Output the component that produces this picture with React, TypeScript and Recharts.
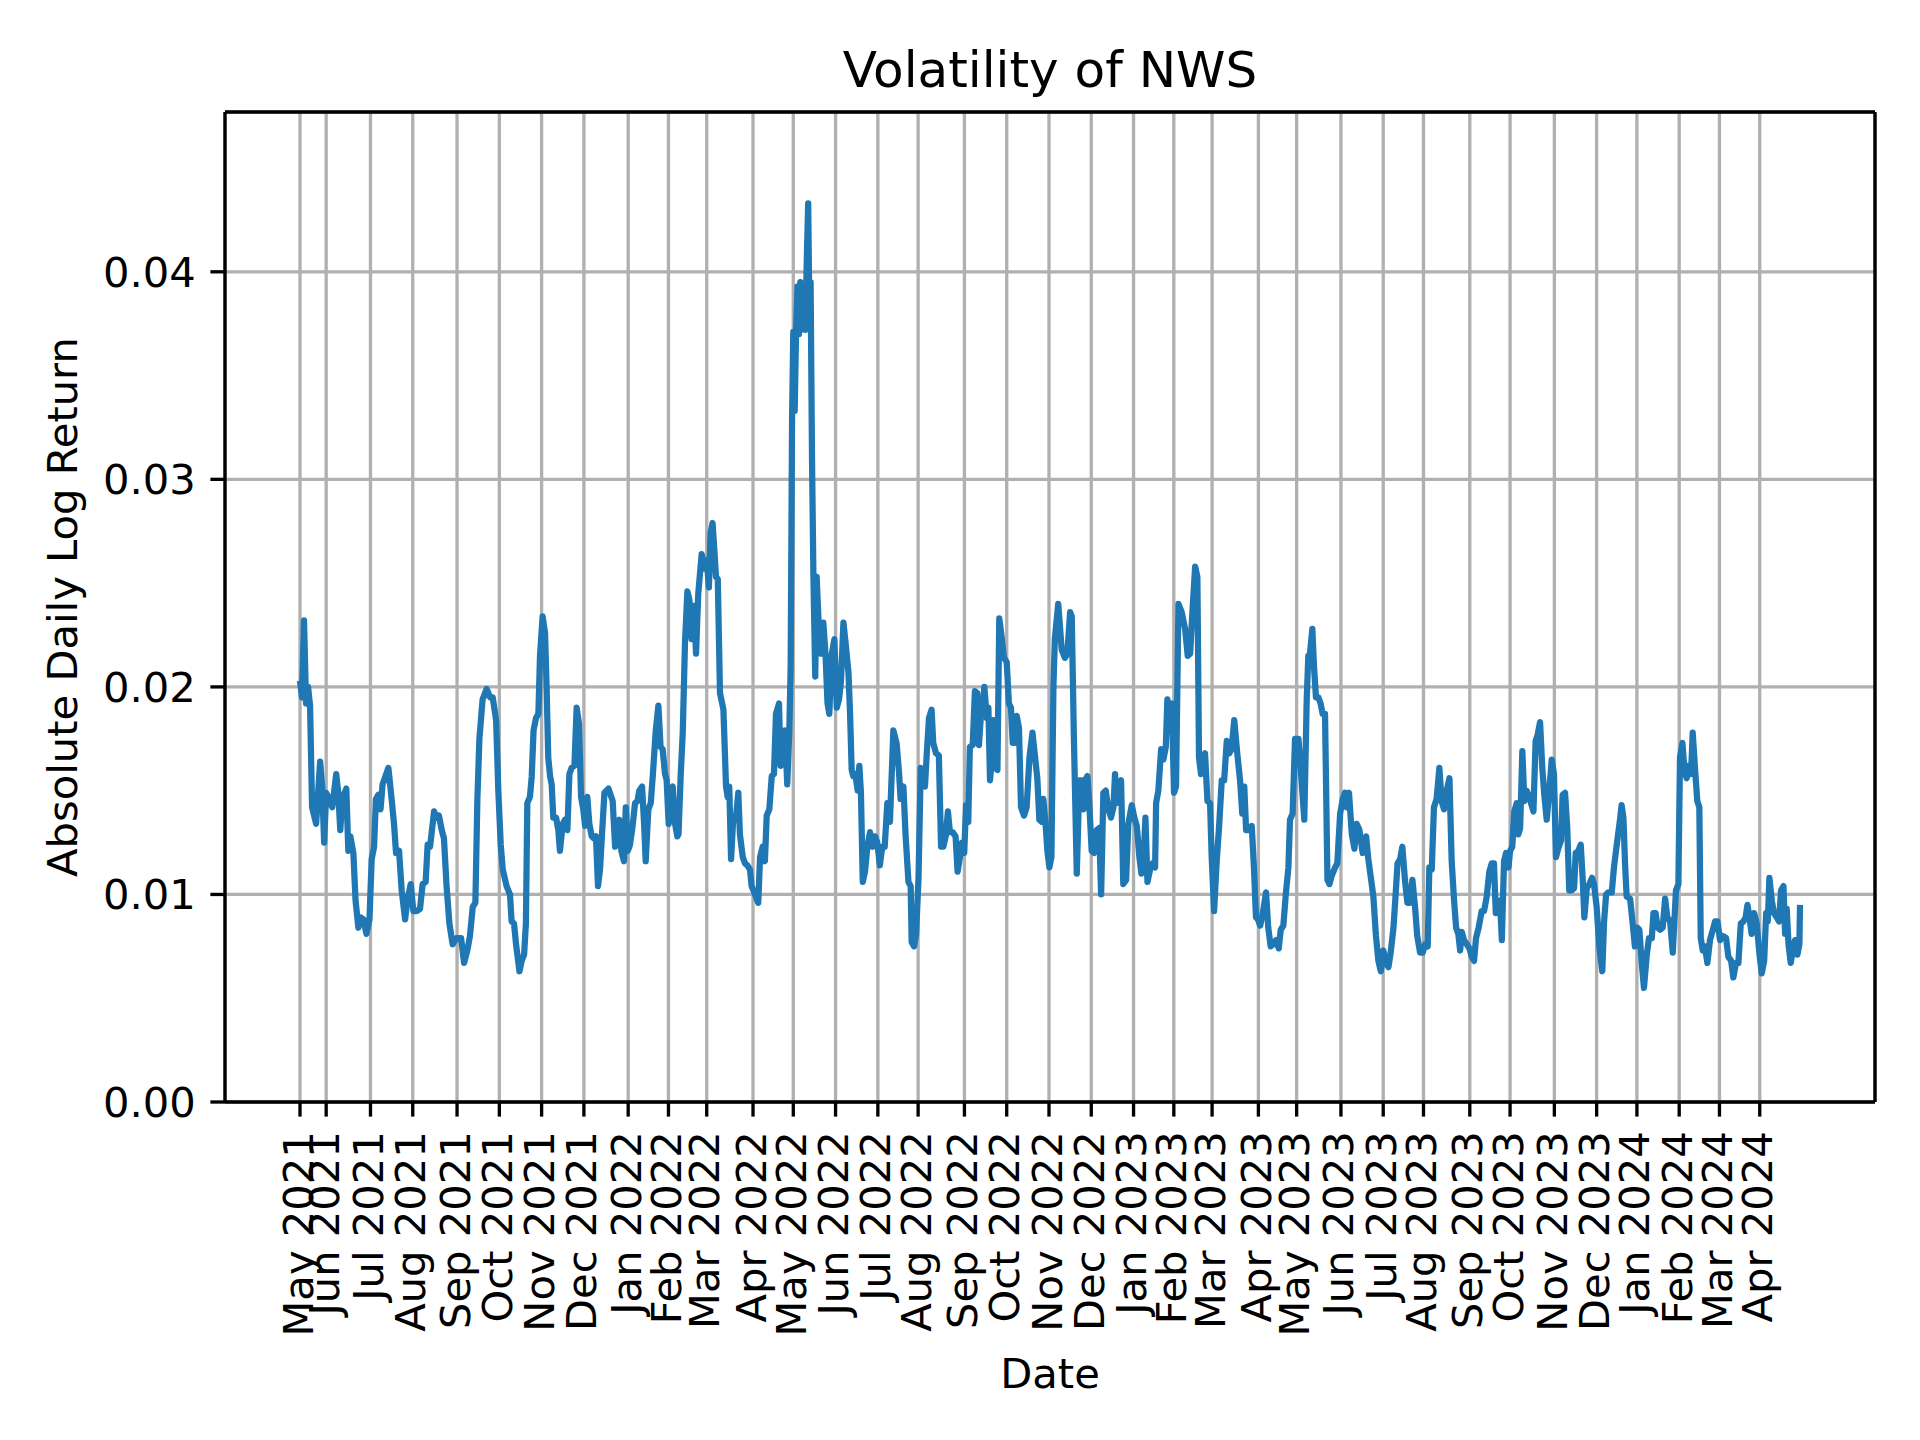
import React from "react";
import { LineChart, Line, XAxis, YAxis, CartesianGrid, ReferenceLine } from "recharts";

// x = trading-day index counted from the first row (12 May 2021), y = absolute daily log return
const may2021: [number, number][] = [
  [0, 0.0203], [1, 0.0195], [2, 0.0232], [3, 0.0192], [4, 0.02], [5, 0.0191], [6, 0.0142], [8, 0.0134],
  [10, 0.0164], [11, 0.0152], [12, 0.0125], [13, 0.0149], [14.5, 0.0146], [16, 0.0142], [18, 0.0158],
  [19, 0.0149], [20, 0.0131], [21, 0.0146], [23, 0.0151], [24, 0.0121], [25, 0.0128], [26.5, 0.012],
  [27.6, 0.0097], [29, 0.0084], [30, 0.0089], [31.5, 0.0088], [33, 0.0081], [34.5, 0.0088], [35.6, 0.0117],
  [36.8, 0.0123], [37.7, 0.0146], [38.9, 0.0148], [40, 0.0141], [41, 0.0153], [43.9, 0.0161], [45.5, 0.0146],
  [46.7, 0.0134], [47.7, 0.012], [49.2, 0.0121], [50.5, 0.0102], [52.2, 0.0088], [53.3, 0.0097], [55, 0.0105],
  [56.3, 0.0092], [58, 0.0092], [59.6, 0.0093], [60.9, 0.0105], [62.4, 0.0106], [63.4, 0.0124], [64.6, 0.0123],
  [66.6, 0.014], [67.9, 0.0137], [69, 0.0138], [70.4, 0.0131], [71.5, 0.0127], [72.8, 0.0104], [74.2, 0.0086],
  [75.8, 0.0076], [77.8, 0.0079], [80, 0.0079], [81.5, 0.0067], [83.1, 0.0073], [84.4, 0.008], [85.8, 0.0094],
  [87.1, 0.0096], [88.1, 0.0146], [89.1, 0.0175], [90.7, 0.0194],
];

const sep2021: [number, number][] = [
  [92.7, 0.0199], [94.4, 0.0195], [95.7, 0.0195], [97.4, 0.0184], [98.5, 0.015], [99.7, 0.0124], [100.7, 0.0112],
  [102.6, 0.0104], [104.3, 0.01], [105.1, 0.0087], [106.3, 0.0086], [107.3, 0.0076], [109, 0.0063], [110.1, 0.0068],
  [111.3, 0.0071], [112.2, 0.0086], [112.9, 0.0144], [114.2, 0.0147], [115.1, 0.0157], [116, 0.0179], [117.2, 0.0185],
  [118.4, 0.0187], [119.2, 0.0215], [120.5, 0.0234], [121.7, 0.0226], [122.5, 0.0199], [123.3, 0.0166], [124.2, 0.0157],
  [125, 0.0153], [125.8, 0.0137], [127.2, 0.0137], [128.3, 0.0131], [129.1, 0.0121], [130.5, 0.0134], [131.6, 0.0136],
  [132.8, 0.0131], [133.8, 0.0158], [134.9, 0.0161], [136.3, 0.0162], [137.4, 0.019], [138.6, 0.0182], [139.6, 0.0147],
  [140.7, 0.0141], [141.6, 0.0133], [142.7, 0.0147], [143.7, 0.0134], [144.9, 0.0128], [146, 0.0127], [147, 0.0128],
  [148, 0.0104], [149, 0.0112], [150.3, 0.0134], [151.2, 0.0149], [153.2, 0.0151], [155.3, 0.0145], [156.5, 0.0123],
  [157.6, 0.0131], [158.6, 0.0136], [159.6, 0.0121], [160.9, 0.0116], [161.8, 0.0142], [162.8, 0.0121], [163.9, 0.0124],
  [165.2, 0.0133], [166.4, 0.0144], [167.6, 0.0145], [168.5, 0.015], [169.9, 0.0152], [170.9, 0.0134], [171.7, 0.0116],
  [173, 0.0141], [174.2, 0.0144], [175.2, 0.0157], [176.7, 0.0179], [178, 0.0191], [179.1, 0.0171], [180.1, 0.017],
  [181.3, 0.0158], [182.1, 0.0155], [183.1, 0.0134], [184.1, 0.015], [185.1, 0.0152], [186.3, 0.0134], [187.4, 0.0128],
];

const feb2022: [number, number][] = [
  [188, 0.0129], [189.1, 0.0158], [190.1, 0.0178], [191.2, 0.0221], [192.4, 0.0246], [193.4, 0.0242], [194.5, 0.0223],
  [195.7, 0.0239], [196.7, 0.0216], [197.8, 0.0245], [199.5, 0.0264], [200.8, 0.0257], [202, 0.0261], [203.1, 0.0248],
  [203.9, 0.0274], [204.9, 0.0279], [205.8, 0.0266], [206.6, 0.0253], [207.5, 0.0252], [208.6, 0.0197], [210.3, 0.0189],
  [211.6, 0.0152], [212.4, 0.0147], [213.2, 0.0152], [214.1, 0.0117], [215.2, 0.0137], [216.4, 0.0136], [217.7, 0.0149],
  [218.5, 0.0129], [219.9, 0.0118], [221, 0.0115], [222.2, 0.0114], [223.5, 0.0112], [224.3, 0.0104], [226, 0.01],
  [227.6, 0.0096], [228.5, 0.0118], [229.8, 0.0123], [230.9, 0.0116], [231.8, 0.0138], [233.1, 0.0141], [234.3, 0.0157],
  [235.4, 0.0158], [236.4, 0.0187], [237.9, 0.0192], [238.7, 0.0162], [239.7, 0.0174], [240.9, 0.0179], [242, 0.0153],
  [243, 0.0178], [243.7, 0.021],
  // May 2022 spike
  [244.4, 0.033], [245, 0.0371], [245.7, 0.0333], [246.4, 0.0372], [247.1, 0.0393], [247.8, 0.037], [248.5, 0.0395],
  [249.2, 0.0372], [250, 0.0376], [251, 0.0372], [251.8, 0.041], [252.4, 0.0433], [253, 0.038], [253.6, 0.0395],
  [254.3, 0.031], [255, 0.0253], [255.9, 0.0205], [256.6, 0.0253], [257.8, 0.0226], [258.8, 0.0216], [259.9, 0.0231],
  [261, 0.0216], [262, 0.0192], [262.9, 0.0187], [264, 0.0215], [265.4, 0.0223], [266.6, 0.019], [267.7, 0.0194],
  [268.7, 0.0203], [269.9, 0.0231], [271, 0.0221], [272.4, 0.0207], [273.2, 0.0187], [274, 0.016], [274.8, 0.0157],
  [275.8, 0.0158], [277, 0.015], [277.8, 0.0162], [278.6, 0.0149],
];

const jun2022: [number, number][] = [
  [279.5, 0.0106], [280.6, 0.0111], [281.8, 0.0123], [283.1, 0.013], [284.4, 0.0123], [285.6, 0.0128], [286.7, 0.0125],
  [288, 0.0114], [289.2, 0.0123], [290.4, 0.0123], [291.7, 0.0144], [293, 0.0135], [294.7, 0.0179], [296.3, 0.0173],
  [297.5, 0.0159], [298.3, 0.0146], [299.7, 0.0152], [300.8, 0.0128], [302.2, 0.0106], [303.3, 0.0104], [303.8, 0.0077],
  [305, 0.0075], [306, 0.0081], [307.2, 0.0108], [308.3, 0.0161], [309.6, 0.0159], [310.4, 0.0152], [311.3, 0.0168],
  [312.4, 0.0185], [313.7, 0.0189], [314.5, 0.0173], [315.9, 0.0168], [317.3, 0.0167], [318.4, 0.0123], [319.5, 0.0123],
  [320.7, 0.0128], [321.8, 0.014], [322.8, 0.013], [324.1, 0.013], [325.6, 0.0128], [326.6, 0.0111], [327.8, 0.0118],
  [328.8, 0.0125], [329.9, 0.012], [330.8, 0.0143], [331.9, 0.0135], [332.7, 0.0171], [334.1, 0.0172], [335.2, 0.0198],
  [336.4, 0.0197], [337.2, 0.0172], [338.1, 0.0185], [339.1, 0.019], [339.9, 0.02], [341.1, 0.0185], [341.9, 0.019],
  [342.7, 0.0155], [343.7, 0.0166], [344.4, 0.0184], [345.2, 0.0161], [346.4, 0.016], [347.3, 0.0233], [348.5, 0.0224],
  [349.6, 0.0214], [351, 0.0212], [352.1, 0.0192], [353.1, 0.019], [354, 0.0173], [355.1, 0.0173], [356, 0.0186],
  [357.1, 0.018], [358.1, 0.0142], [359.6, 0.0138], [360.9, 0.0142], [362.3, 0.0166], [363.8, 0.0178], [365.1, 0.0166],
  [366.2, 0.0156], [367.2, 0.0136], [368.4, 0.0135], [369.2, 0.0146], [370.2, 0.0135], [371.3, 0.012], [372.2, 0.0113],
  [373.2, 0.0118], [374.2, 0.02],
];

const nov2022: [number, number][] = [
  [374.9, 0.0223], [376.6, 0.024], [378.3, 0.0218], [379.9, 0.0214], [381.1, 0.0216], [382.5, 0.0236], [383.3, 0.0234],
  [384.4, 0.0174], [385.8, 0.011], [387.1, 0.0155], [388.2, 0.0155], [389.1, 0.0141], [389.9, 0.0155], [391.1, 0.0157],
  [392.1, 0.0142], [393.2, 0.0121], [394.4, 0.012], [395.7, 0.0131], [396.9, 0.0132], [397.9, 0.01], [399, 0.0149],
  [400.2, 0.015], [401.5, 0.0141], [402.8, 0.0137], [404, 0.0142], [404.8, 0.0158], [405.6, 0.0144], [406.8, 0.0153],
  [407.8, 0.0155], [408.9, 0.0105], [410.3, 0.0107], [411.4, 0.0134], [413.1, 0.0143], [414.4, 0.0137], [415.6, 0.0133],
  [416.9, 0.0118], [417.9, 0.011], [418.9, 0.0116], [419.9, 0.0137], [420.9, 0.0106], [422.2, 0.0112], [423.5, 0.0115],
  [424.7, 0.0113], [425.2, 0.0144], [426.3, 0.015], [427.7, 0.017], [428.8, 0.0165], [430, 0.0171], [430.8, 0.0194],
  [431.8, 0.0179], [433, 0.0192], [434.1, 0.0149], [435.1, 0.0152], [436.3, 0.024], [437.9, 0.0236], [439.6, 0.0228],
  [440.9, 0.0215], [442.1, 0.0216], [443.4, 0.0239], [444.6, 0.0258], [445.7, 0.0253], [446.5, 0.0166], [447.5, 0.0158],
  [448.7, 0.0166], [449.5, 0.0168], [450.7, 0.0145], [452, 0.0144], [452.8, 0.0118], [454, 0.0092], [455.3, 0.0116],
  [456.5, 0.0133], [457.8, 0.0155], [459, 0.0155], [460.3, 0.0174], [461.5, 0.0168], [462.7, 0.017], [464, 0.0184],
  [465.5, 0.0168], [466.9, 0.0155], [468, 0.0139], [469, 0.0152],
];

const apr2023: [number, number][] = [
  [469.9, 0.0131], [471, 0.0131], [472.7, 0.0133], [473.8, 0.0113], [474.8, 0.0089], [475.8, 0.0088], [476.9, 0.0085],
  [478.2, 0.0091], [479.8, 0.0101], [480.9, 0.0084], [482.1, 0.0075], [483.4, 0.0076], [484.8, 0.0078], [486.1, 0.0074],
  [487.1, 0.0083], [488.4, 0.0085], [489.7, 0.0101], [490.9, 0.0113], [491.7, 0.0136], [493, 0.0139], [494.2, 0.0175],
  [495.9, 0.0175], [497.2, 0.0158], [498.8, 0.0136], [500, 0.0194], [500.8, 0.0215], [501.6, 0.0216], [502.8, 0.0228],
  [503.6, 0.021], [504.6, 0.0195], [505.8, 0.0195], [506.9, 0.0192], [507.9, 0.0187], [509.1, 0.0187], [510.3, 0.0107],
  [511.3, 0.0105], [512.4, 0.0109], [514.1, 0.0113], [515.2, 0.0115], [516.6, 0.0139], [517.9, 0.0146], [519, 0.0149],
  [519.9, 0.0142], [521, 0.0149], [522.4, 0.0129], [523.7, 0.0122], [524.8, 0.0134], [526.2, 0.0131], [527.8, 0.012],
  [529.5, 0.0128], [530.6, 0.0117], [532, 0.0107], [533.1, 0.0099], [534.4, 0.008], [535.6, 0.0068], [536.8, 0.0063],
  [538.1, 0.0073], [539.3, 0.0067], [540.6, 0.0065], [541.7, 0.0072], [543.1, 0.0084], [544.1, 0.0099], [545.1, 0.0115],
  [546.4, 0.0117], [547.5, 0.0123], [548.8, 0.0107], [550, 0.0096], [551.3, 0.0096], [552.5, 0.0107], [553.8, 0.0094],
  [554.9, 0.008], [556.3, 0.0072], [557.6, 0.0072], [558.8, 0.0076], [560.1, 0.0075], [560.9, 0.0113], [562.1, 0.0112],
  [563.2, 0.0142], [564.5, 0.0146],
];

const aug2023: [number, number][] = [
  [565.9, 0.0161], [567, 0.0145], [568.2, 0.0141], [569.5, 0.015], [570.9, 0.0156], [572, 0.0116], [573.2, 0.0097],
  [574.2, 0.0084], [575.3, 0.0081], [576.2, 0.0073], [577, 0.0082], [578.1, 0.0078], [579.5, 0.0076], [580.8, 0.0074],
  [582, 0.007], [583.1, 0.0068], [584.1, 0.0079], [585.4, 0.0084], [586.9, 0.0092], [588.1, 0.0092], [589.4, 0.0099],
  [590.7, 0.0111], [591.9, 0.0115], [593, 0.0115], [593.9, 0.0091], [594.9, 0.0097], [596, 0.0097], [596.9, 0.0078],
  [598, 0.0116], [599, 0.012], [600.2, 0.0113], [601, 0.0121], [602.1, 0.0123], [603.1, 0.014], [604.3, 0.0144],
  [605.1, 0.0129], [606, 0.0132], [607.1, 0.0169], [608.1, 0.0145], [609.3, 0.015], [610.4, 0.0147], [611.4, 0.0144],
  [612.6, 0.014], [613.7, 0.0174], [614.7, 0.0177], [615.9, 0.0183], [617, 0.0161], [618, 0.0148], [619.2, 0.0136],
  [620.3, 0.0148], [621.7, 0.0165], [622.8, 0.0158], [623.8, 0.0118], [624.9, 0.0122], [626.3, 0.0126], [627.1, 0.0148],
  [628.3, 0.0149], [629.4, 0.0132], [630.4, 0.0102], [631.6, 0.0102], [632.8, 0.0103], [633.6, 0.012], [634.9, 0.0121],
  [636.1, 0.0124], [637.1, 0.0107], [637.9, 0.0089], [639.1, 0.0103], [640.4, 0.0105], [641.7, 0.0108], [642.7, 0.0105],
  [644, 0.0094], [645.4, 0.0074], [646.8, 0.0063], [647.7, 0.0087], [648.7, 0.01], [649.8, 0.0101], [651.5, 0.0101],
  [652.6, 0.0113], [654, 0.0124], [655.6, 0.0136],
];

const jan2024: [number, number][] = [
  [656.4, 0.0143], [657.3, 0.0137], [658.1, 0.0115], [658.9, 0.0099], [660.6, 0.0098], [661.9, 0.0086], [663, 0.0075],
  [664.2, 0.0084], [665.2, 0.0083], [666.4, 0.0067], [667.5, 0.0055], [668.9, 0.0071], [670, 0.0079], [671.4, 0.0079],
  [672.2, 0.0091], [673.3, 0.0091], [674.3, 0.0084], [675.5, 0.0083], [676.8, 0.0084], [678, 0.0098], [679.1, 0.0089],
  [680.5, 0.0087], [681.8, 0.0072], [682.6, 0.0087], [683.4, 0.0102], [684.6, 0.0105], [685.4, 0.0166], [686.6, 0.0173],
  [687.6, 0.016], [688.7, 0.0156], [689.9, 0.0162], [690.9, 0.0158], [691.7, 0.0178], [692.9, 0.016], [694, 0.0145],
  [695, 0.0142], [695.7, 0.0079], [696.7, 0.0073], [697.8, 0.0075], [699, 0.0067], [700.3, 0.0078], [701.7, 0.0083],
  [702.8, 0.0087], [704, 0.0087], [705.3, 0.0078], [706.6, 0.008], [708.3, 0.0079], [709.4, 0.007], [710.8, 0.0068],
  [711.9, 0.006], [713.2, 0.0067], [714.4, 0.0067], [715.6, 0.0086], [716.9, 0.0087], [718, 0.0089], [718.9, 0.0095],
  [719.9, 0.0089], [721, 0.0081], [722.2, 0.0091], [723.5, 0.0086], [724.9, 0.0071], [726, 0.0062], [727.2, 0.0068],
  [728.2, 0.0091], [729, 0.0087], [729.8, 0.0108], [731, 0.0097], [732.1, 0.0091], [733.4, 0.0089], [734.6, 0.0087],
  [735.6, 0.0102], [736.8, 0.0104], [737.6, 0.0081], [738.4, 0.0093], [739.3, 0.0076], [740.4, 0.0067], [741.4, 0.0073],
  [742.5, 0.0078], [743.7, 0.0071], [744.7, 0.0076], [745, 0.0095],
];

// first trading day of each month, as index into the series
const tickIdx = [
  0, 13, 35, 56, 78, 99, 120, 141, 163, 183, 202, 225, 245, 266, 287, 307, 330, 351,
  372, 393, 414, 434, 453, 476, 495, 517, 538, 558, 581, 601, 623, 644, 664, 685, 705, 725,
];
const tickLabels = [
  "May 2021", "Jun 2021", "Jul 2021", "Aug 2021", "Sep 2021", "Oct 2021", "Nov 2021", "Dec 2021",
  "Jan 2022", "Feb 2022", "Mar 2022", "Apr 2022", "May 2022", "Jun 2022", "Jul 2022", "Aug 2022",
  "Sep 2022", "Oct 2022", "Nov 2022", "Dec 2022", "Jan 2023", "Feb 2023", "Mar 2023", "Apr 2023",
  "May 2023", "Jun 2023", "Jul 2023", "Aug 2023", "Sep 2023", "Oct 2023", "Nov 2023", "Dec 2023",
  "Jan 2024", "Feb 2024", "Mar 2024", "Apr 2024",
];
const yTicks = [0, 0.01, 0.02, 0.03, 0.04];

const LAST = 745;
const X_MIN = -LAST * 0.05;
const X_MAX = LAST * 1.05;
const Y_MAX = 0.0477;

const FONT = "DejaVu Sans, sans-serif";
const FS = 41.67;
const LW = 3.33;

const data = [...may2021, ...sep2021, ...feb2022, ...jun2022, ...nov2022, ...apr2023, ...aug2023, ...jan2024].map(
  ([i, v]) => ({ i, v })
);

const XTick = (props: any) => {
  const { x, y, payload } = props;
  const k = tickIdx.indexOf(payload.value);
  return (
    <g transform={`translate(${x},${y})`}>
      <text transform="rotate(-90)" textAnchor="end" dy="0.3em" fontSize={FS} fontFamily={FONT} fill="#000">
        {k >= 0 ? tickLabels[k] : ""}
      </text>
    </g>
  );
};

export default function App() {
  return (
    <div style={{ position: "absolute", left: 0, top: 0, width: 1920, height: 1440, background: "#fff" }}>
      <LineChart width={1920} height={1440} data={data} margin={{ top: 112, right: 45, bottom: 0, left: 0 }}>
        <CartesianGrid stroke="#b0b0b0" strokeWidth={LW} />
        <XAxis
          dataKey="i"
          type="number"
          domain={[X_MIN, X_MAX]}
          allowDataOverflow
          ticks={tickIdx}
          interval={0}
          height={338}
          tickSize={14.6}
          tickMargin={14.6}
          tick={<XTick />}
          axisLine={{ stroke: "#000", strokeWidth: LW }}
          tickLine={{ stroke: "#000", strokeWidth: LW }}
        />
        <YAxis
          type="number"
          domain={[0, Y_MAX]}
          allowDataOverflow
          ticks={yTicks}
          interval={0}
          width={225}
          tickSize={14.6}
          tickMargin={14.6}
          tickFormatter={(v: number) => v.toFixed(2)}
          tick={{ fontSize: FS, fontFamily: FONT, fill: "#000" }}
          axisLine={{ stroke: "#000", strokeWidth: LW }}
          tickLine={{ stroke: "#000", strokeWidth: LW }}
        />
        <ReferenceLine y={Y_MAX} stroke="#000" strokeWidth={LW} />
        <ReferenceLine x={X_MAX} stroke="#000" strokeWidth={LW} />
        <Line
          type="linear"
          dataKey="v"
          stroke="#1f77b4"
          strokeWidth={6.25}
          strokeLinejoin="round"
          dot={false}
          activeDot={false}
          isAnimationActive={false}
        />
      </LineChart>
      <svg
        width={1920}
        height={1440}
        style={{ position: "absolute", left: 0, top: 0, pointerEvents: "none" }}
        fontFamily={FONT}
      >
        <text x={1050} y={87} textAnchor="middle" fontSize={50} fill="#000">
          Volatility of NWS
        </text>
        <text x={1050} y={1388} textAnchor="middle" fontSize={FS} fill="#000">
          Date
        </text>
        <text transform="translate(77,607) rotate(-90)" textAnchor="middle" fontSize={FS} fill="#000">
          Absolute Daily Log Return
        </text>
      </svg>
    </div>
  );
}
